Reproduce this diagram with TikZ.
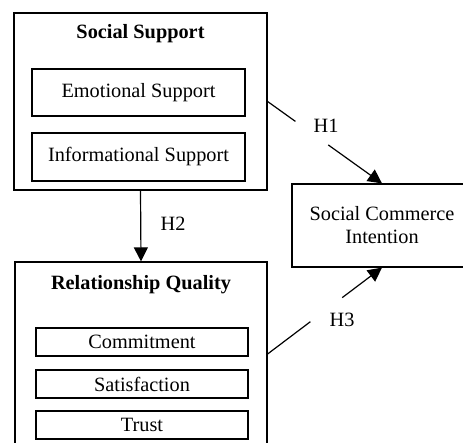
\documentclass[tikz,border=0pt]{standalone}
\usepackage{fontspec}
\setmainfont{Liberation Serif}
\usetikzlibrary{arrows.meta,calc}
\begin{document}
\begin{tikzpicture}[x=1pt,y=-1pt,
  every node/.style={font=\fontsize{20.3}{23}\selectfont},
  box/.style={draw,line width=1.2pt,rectangle,inner sep=0pt,anchor=center},
  ttl/.style={font=\fontsize{20.3}{23}\selectfont\bfseries,inner sep=0pt},
  lbl/.style={inner sep=0pt},
  conn/.style={line width=1.2pt},
  arr/.style={conn,-{Triangle[length=14pt,width=14pt]}}]
\useasboundingbox (0,0) rectangle (463,443);
\clip (0,0) rectangle (463,443);
% Social Support
\node[box,minimum width=253pt,minimum height=177pt] (ss) at (140.5,101.5) {};
\node[ttl] (sst) at (140.5,34) {Social Support};
\node[box,minimum width=213pt,minimum height=47pt] (es) at (138.5,92.5) {Emotional Support};
\node[box,minimum width=213pt,minimum height=48pt] (is) at (138.5,157) {Informational Support};
% Relationship Quality
\node[box,minimum width=252pt,minimum height=184pt] (rq) at (141,354) {};
\node[ttl] (rqt) at (141,285) {Relationship Quality};
\node[box,minimum width=212pt,minimum height=28pt] (cm) at (142,342) {Commitment};
\node[box,minimum width=212pt,minimum height=28pt] (sa) at (142,384) {Satisfaction};
\node[box,minimum width=212pt,minimum height=28pt] (tr) at (142,425) {Trust};
% Social Commerce Intention
\node[box,minimum width=180pt,minimum height=83pt,align=center] (sci) at (382,225.5) {Social Commerce\\Intention};
% H2
\draw[arr] (ss.south) -- (rq.north);
\node[lbl] (h2) at (173,224) {H2};
% H1
\coordinate (h1a) at ($(ss.east)!0.243!(sci.north)$);
\coordinate (h1b) at ($(ss.east)!0.53!(sci.north)$);
\draw[conn] (ss.east) -- (h1a);
\draw[arr] (h1b) -- (sci.north);
\node[lbl] (h1) at (326,126) {H1};
% H3
\coordinate (h3a) at ($(rq.east)!0.374!(sci.south)$);
\coordinate (h3b) at ($(rq.east)!0.652!(sci.south)$);
\draw[conn] (rq.east) -- (h3a);
\draw[arr] (h3b) -- (sci.south);
\node[lbl] (h3) at (342,320) {H3};
\end{tikzpicture}
\end{document}
